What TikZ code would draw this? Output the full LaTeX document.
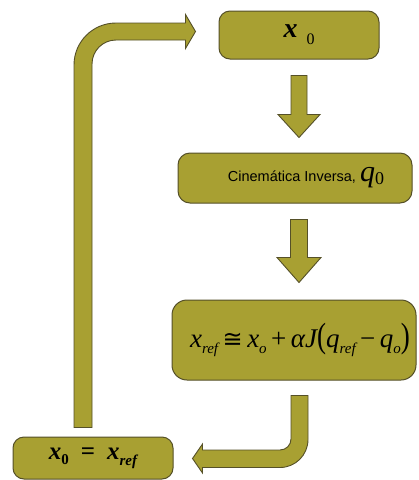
\documentclass[tikz,border=0pt]{standalone}
\usepackage{fontspec}
\usepackage{graphicx}
\setmainfont{Liberation Serif}
\newfontfamily\arialf{Liberation Sans}
\newfontfamily\symf{DejaVu Sans}
\usetikzlibrary{calc}
\definecolor{olivefill}{RGB}{168,160,50}
\definecolor{oliveline}{RGB}{85,80,40}
\newcommand\lsub[1]{\raisebox{-6pt}{\fontsize{15}{15}\selectfont #1}}
\begin{document}
\begin{tikzpicture}[x=1pt,y=-1pt,
  box/.style={draw=oliveline, fill=olivefill, line width=1pt, rounded corners=11pt, inner sep=0pt, align=center},
  blk/.style={draw=oliveline, fill=olivefill, line width=0.9pt, line join=miter}]
\useasboundingbox (0,0) rectangle (419,480);
\fill[white] (0,0) rectangle (419,480);

\node[box, minimum width=160pt, minimum height=48pt] (b1) at (299,35)
  {{\fontsize{28}{30}\selectfont\bfseries\itshape x}\hspace{9pt}\raisebox{-7pt}{\fontsize{16}{16}\selectfont 0}};

\node[box, minimum width=234pt, minimum height=50pt, rounded corners=12pt] (b2) at (295,178)
  {\hspace*{22pt}{\arialf\fontsize{14.5}{16}\selectfont Cinemática Inversa, }{\fontsize{30}{30}\selectfont\itshape q}\raisebox{-3pt}{\fontsize{18}{18}\selectfont 0}};

\node[box, minimum width=244pt, minimum height=80pt, rounded corners=15pt] (b3) at (294,340)
  {\hspace*{12pt}{\fontsize{27}{30}\selectfont\itshape x\lsub{ref}\,{\symf\upshape\fontsize{24}{24}\selectfont ≅}\,x\lsub{o}\,{\upshape +}\,αJ\scalebox{1}[1.3]{\upshape(}q\lsub{ref}\,{\upshape −}\,q\lsub{o}\scalebox{1}[1.3]{\upshape)}}};

\node[box, minimum width=160pt, minimum height=42pt] (b4) at (93,458)
  {{\fontsize{25}{26}\selectfont\bfseries\itshape x\raisebox{-5pt}{\fontsize{15}{15}\selectfont\upshape 0}\hspace{12pt}{\upshape =}\hspace{12pt}x\lsub{ref}}};

% arrow b1 -> b2
\draw[blk] let \p1=($(b1.south)+(0,16)$), \p2=($(b2.north)+(4,-15)$) in
  (\x1-8pt,\y1) -- (\x1+8pt,\y1) -- (\x1+8pt,\y2+23pt) -- (\x1+21pt,\y2+23pt)
  -- (\x1,\y2) -- (\x1-21pt,\y2+23pt) -- (\x1-8pt,\y2+23pt) -- cycle;

% arrow b2 -> b3
\draw[blk] let \p1=($(b2.south)+(4,16)$), \p2=($(b3.north)+(5,-17)$) in
  (\x1-8.5pt,\y1) -- (\x1+8.5pt,\y1) -- (\x1+8.5pt,\y2+25pt) -- (\x1+22pt,\y2+25pt)
  -- (\x1,\y2) -- (\x1-22pt,\y2+25pt) -- (\x1-8.5pt,\y2+25pt) -- cycle;

% U-turn arrow b3 -> b4
\draw[blk] let \p1=($(b3.south)+(5.5,15)$), \p2=($(b4.east)+(19,0.5)$) in
  (\x1-8.5pt,\y1) -- (\x1+8.5pt,\y1) -- (\x1+8.5pt,\y2-9pt+28pt)
  arc(0:-90:28pt) -- (\x2+10pt,\y2-9pt) -- (\x2+10pt,\y2-14.5pt) -- (\x2,\y2)
  -- (\x2+10pt,\y2+14.5pt) -- (\x2+10pt,\y2+8.5pt) -- (\x1-19.5pt,\y2+8.5pt)
  arc(-90:0:11pt) -- cycle;

% big return arrow b4 -> b1
\draw[blk] let \p1=($(b4.north)+(-10,-9)$), \p2=($(b1.west)+(-23,-3.5)$) in
  (\x1+9pt,\y1) -- (\x1-9pt,\y1) -- (\x1-9pt,\y2+8.5pt-42pt)
  arc(180:90:42pt) -- (\x2-10pt,\y2+8.5pt) -- (\x2-10pt,\y2+17pt) -- (\x2,\y2)
  -- (\x2-10pt,\y2-17pt) -- (\x2-10pt,\y2-8.5pt) -- (\x1+33pt,\y2-8.5pt)
  arc(90:180:24pt) -- cycle;
\end{tikzpicture}
\end{document}
